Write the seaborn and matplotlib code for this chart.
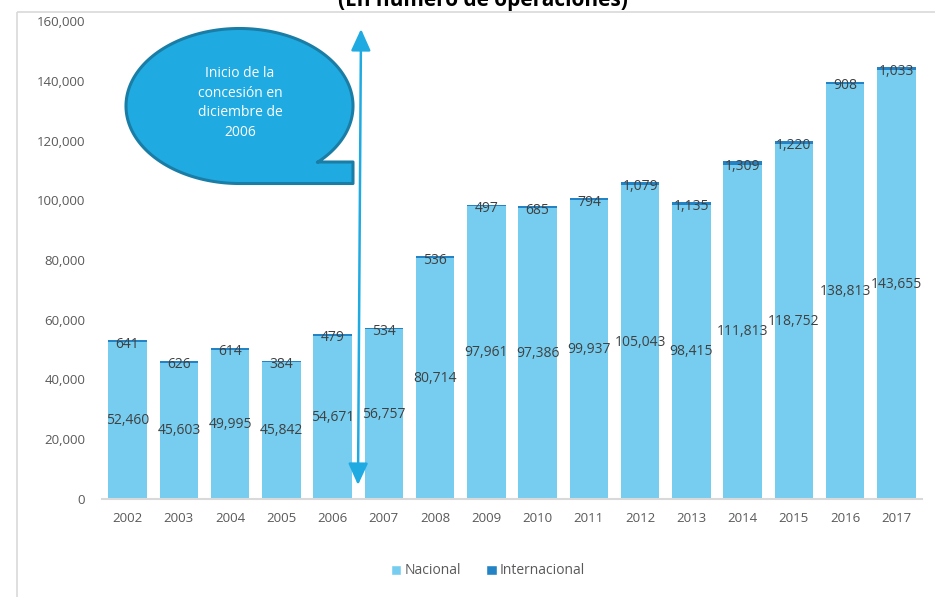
import numpy as np
import pandas as pd
import matplotlib
matplotlib.use("Agg")
import matplotlib.pyplot as plt
import matplotlib.transforms as mtransforms
from matplotlib.patches import Polygon, Patch
import seaborn as sns

years = ["2002", "2003", "2004", "2005", "2006", "2007", "2008", "2009",
         "2010", "2011", "2012", "2013", "2014", "2015", "2016", "2017"]
nacional = [52460, 45603, 49995, 45842, 54671, 56757, 80714, 97961,
            97386, 99937, 105043, 98415, 111813, 118752, 138813, 143655]
internacional = [641, 626, 614, 384, 479, 534, 536, 497,
                 685, 794, 1079, 1135, 1309, 1220, 908, 1033]
yticks = [0, 20000, 40000, 60000, 80000, 100000, 120000, 140000, 160000]
title = "(En número de operaciones)"
note = "Inicio de la\nconcesión en\ndiciembre de\n2006"

sns.set_theme(style="white")
plt.rcParams["font.family"] = ["Open Sans", "DejaVu Sans"]

C_NAC = "#77CDEF"
C_INT = "#2483C5"
TXT = "#404040"
GRAY = "#595959"

W, H = 935, 597
fig = plt.figure(figsize=(W / 100, H / 100), dpi=100)
ax = fig.add_axes([102 / W, 1 - 499 / H, (922 - 102) / W, (499 - 21) / H])

df = pd.DataFrame({"year": years, "Nacional": nacional, "Internacional": internacional})
df["total"] = df["Nacional"] + df["Internacional"]

# stacked: draw total (internacional colour) then nacional over it
sns.barplot(data=df, x="year", y="total", color=C_INT, width=0.75,
            saturation=1, ax=ax, linewidth=0)
sns.barplot(data=df, x="year", y="Nacional", color=C_NAC, width=0.75,
            saturation=1, ax=ax, linewidth=0)

ax.set_ylim(0, 160000)
ax.set_xlim(-0.5, len(years) - 0.5)
ax.set_yticks(yticks)
ax.set_yticklabels([f"{v:,}" for v in yticks], fontsize=9.5, color=GRAY)
ax.tick_params(axis="x", labelsize=9.5, colors=GRAY, pad=9, length=0)
ax.tick_params(axis="y", pad=12, length=0)
ax.set_xlabel("")
ax.set_ylabel("")
for s in ["top", "right", "left"]:
    ax.spines[s].set_visible(False)
ax.spines["bottom"].set_color("#D9D9D9")
ax.spines["bottom"].set_linewidth(1.5)
ax.grid(False)

for i, (n, it) in enumerate(zip(nacional, internacional)):
    ax.text(i, n / 2, f"{n:,}", ha="center", va="center", fontsize=10, color=TXT)
    ax.text(i, n + it / 2, f"{it:,}", ha="center", va="center", fontsize=10,
            color=TXT, transform=ax.transData + mtransforms.Affine2D().translate(0, -3))

# pixel transform (y down)
pix = mtransforms.Affine2D().scale(1 / W, -1 / H).translate(0, 1) + fig.transFigure

# frame
frame = Polygon([(17, 12), (W + 5, 12), (W + 5, H + 5), (17, H + 5)], closed=True,
                transform=pix, fill=False, edgecolor="#D9D9D9", linewidth=1.2,
                zorder=0)
fig.patches.append(frame)

# title (partially cut off as in the source)
fig.text(483 / W, 1 - 6 / H, title, ha="center", va="baseline", fontsize=15,
         fontweight="bold", color="#000000")

# speech bubble
cx, cy, a, b = 239.5, 106.0, 113.5, 77.5
t = np.linspace(np.radians(-46.7), np.radians(270), 300)
pts = [(cx + a * np.cos(tt), cy - b * np.sin(tt)) for tt in t]
pts += [(353, cy + b), (353, 162), (318, 162)]
bubble = Polygon(pts, closed=True, transform=pix, facecolor="#1FABE2",
                 edgecolor="#1A7DA5", linewidth=2.2, zorder=5, joinstyle="round")
fig.patches.append(bubble)
fig.text(240 / W, 1 - 103 / H, note, ha="center", va="center", fontsize=10,
         color="white", linespacing=1.45, zorder=6)

# double arrow
ax.annotate("", xy=(361 / W, 1 - 29 / H), xytext=(358 / W, 1 - 485 / H),
            xycoords="figure fraction", textcoords="figure fraction",
            arrowprops=dict(arrowstyle="<|-|>,head_length=1.1,head_width=0.5",
                            color="#1FABE2", lw=1.8, shrinkA=0, shrinkB=0),
            annotation_clip=False, zorder=7)

# legend
handles = [Patch(facecolor=C_NAC, label="Nacional"),
           Patch(facecolor=C_INT, label="Internacional")]
fig.legend(handles=handles, loc="center", bbox_to_anchor=(488 / W, 1 - 571 / H),
           ncol=2, frameon=False, fontsize=10, handlelength=0.75, handleheight=0.75,
           handletextpad=0.25, columnspacing=1.8, labelcolor=GRAY)

fig.savefig("out.png", dpi=100)
